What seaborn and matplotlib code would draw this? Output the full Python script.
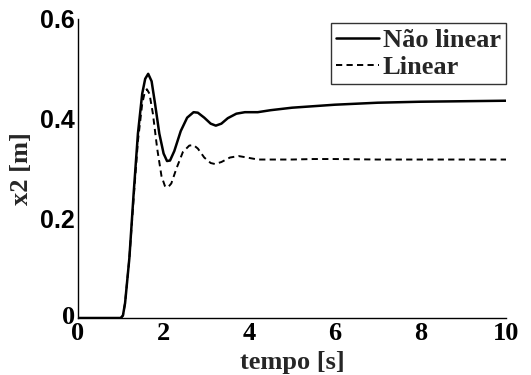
import matplotlib
matplotlib.use("Agg")
import matplotlib.pyplot as plt
import matplotlib.transforms as mtransforms
import seaborn as sns
import pandas as pd

# Nonlinear response ("Não linear")
t_nl = [0, 1.0, 1.05, 1.1, 1.2, 1.3, 1.4, 1.5, 1.57, 1.64, 1.72, 1.8, 1.9, 2.0, 2.08,
        2.15, 2.25, 2.4, 2.55, 2.7, 2.8, 2.95, 3.1, 3.22, 3.35, 3.5, 3.7, 3.9, 4.2,
        4.5, 5.0, 5.5, 6.0, 6.5, 7.0, 7.5, 8.0, 9.0, 10.0]
x2_nl = [0, 0, 0.005, 0.03, 0.12, 0.25, 0.37, 0.45, 0.48, 0.49, 0.475, 0.43, 0.37, 0.33, 0.315,
         0.316, 0.335, 0.375, 0.402, 0.413, 0.412, 0.402, 0.39, 0.386, 0.39, 0.401, 0.41, 0.413, 0.413,
         0.417, 0.422, 0.425, 0.428, 0.43, 0.432, 0.433, 0.434, 0.435, 0.436]

# Linear response ("Linear")
t_lin = [0, 1.0, 1.05, 1.1, 1.2, 1.3, 1.4, 1.5, 1.56, 1.61, 1.67, 1.75, 1.85, 1.95, 2.03,
         2.1, 2.18, 2.3, 2.45, 2.6, 2.7, 2.8, 2.95, 3.1, 3.2, 3.35, 3.55, 3.75, 3.95,
         4.2, 4.5, 5.0, 5.5, 6.0, 7.0, 8.0, 10.0]
x2_lin = [0, 0, 0.005, 0.03, 0.12, 0.24, 0.355, 0.43, 0.453, 0.459, 0.45, 0.41, 0.34, 0.285, 0.265,
          0.262, 0.27, 0.30, 0.333, 0.346, 0.347, 0.34, 0.322, 0.311, 0.309, 0.313, 0.322, 0.325, 0.322,
          0.318, 0.318, 0.318, 0.319, 0.319, 0.318, 0.318, 0.318]

labels = ["Não linear", "Linear"]
x_ticks = [0, 2, 4, 6, 8, 10]
y_ticks = [0, 0.2, 0.4, 0.6]
y_tick_labels = ["0", "0.2", "0.4", "0.6"]

sns.set_style("white")
plt.rcParams["font.family"] = ["Liberation Serif", "DejaVu Serif"]
plt.rcParams["font.weight"] = "bold"
plt.rcParams["axes.labelweight"] = "bold"

SERIF = 19
SANS = 18

df_nl = pd.DataFrame({"t": t_nl, "x2": x2_nl})
df_lin = pd.DataFrame({"t": t_lin, "x2": x2_lin})

fig = plt.figure(figsize=(5.31, 3.75), dpi=100)
ax = fig.add_axes([78 / 531, 1 - 318 / 375, 428 / 531, 299 / 375])

sns.lineplot(data=df_nl, x="t", y="x2", ax=ax, color="black", linewidth=1.8,
             label=labels[0], estimator=None, sort=False)
sns.lineplot(data=df_lin, x="t", y="x2", ax=ax, color="black", linewidth=1.4,
             label=labels[1], estimator=None, sort=False)
ax.lines[1].set_linestyle((0, (3.2, 2.2)))

ax.set_xlim(0, 10)
ax.set_ylim(0, 0.6)
ax.set_xticks(x_ticks)
ax.set_xticklabels([str(v) for v in x_ticks])
ax.set_yticks(y_ticks)
ax.set_yticklabels(y_tick_labels)

for s in ["top", "right"]:
    ax.spines[s].set_visible(False)
for s in ["left", "bottom"]:
    ax.spines[s].set_color("black")
    ax.spines[s].set_linewidth(1.0)

ax.tick_params(axis="both", direction="in", length=4, width=0.8, colors="black")
ax.tick_params(axis="x", pad=3, labelsize=SERIF)
ax.tick_params(axis="y", pad=2, labelsize=SANS)
for lab in ax.get_xticklabels():
    lab.set_fontweight("bold")
    lab.set_fontsize(SERIF)
for i, lab in enumerate(ax.get_yticklabels()):
    lab.set_fontweight("bold")
    if y_tick_labels[i] == "0":
        lab.set_fontsize(SERIF)
        lab.set_family(["Liberation Serif"])
        lab.set_transform(lab.get_transform() +
                          mtransforms.ScaledTranslation(0, 3.5 / 100, fig.dpi_scale_trans))
    else:
        lab.set_fontsize(SANS)
        lab.set_family(["Liberation Sans"])

ax.set_xlabel("tempo [s]", fontsize=SERIF, fontweight="bold")
ax.xaxis.set_label_coords(0.5, -0.188)
ax.xaxis.label.set_verticalalignment("bottom")
ax.set_ylabel("x2 [m]", fontsize=SERIF, fontweight="bold")
ax.yaxis.set_label_coords(-0.105, 0.5)

leg = ax.legend(loc="upper right", bbox_to_anchor=(1.0, 0.985), fontsize=SERIF,
                frameon=True, fancybox=False, shadow=False, borderpad=0.2,
                handlelength=1.6, handletextpad=0.15, labelspacing=0.12,
                borderaxespad=0.0)
leg.get_frame().set_edgecolor("black")
leg.get_frame().set_linewidth(1.0)
for txt in leg.get_texts():
    txt.set_fontweight("bold")

fig.savefig("out.png", dpi=100)
